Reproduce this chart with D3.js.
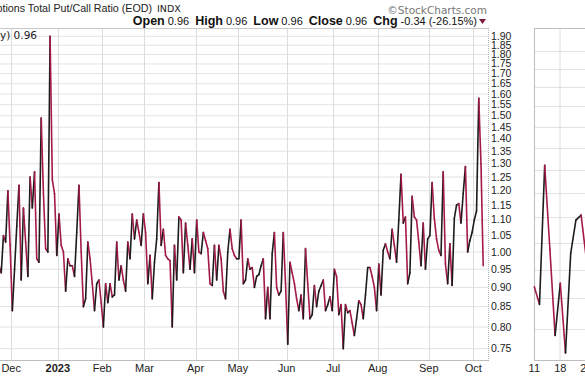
<!DOCTYPE html>
<html>
<head>
<meta charset="utf-8">
<script src="https://cdn.jsdelivr.net/npm/d3@7"></script>
<style>
  body { margin: 0; background: #fff; }
  svg { display: block; font-family: "Liberation Sans", Arial, sans-serif; }
</style>
</head>
<body>
<svg id="chart" width="585" height="376"></svg>
<script>
// $CPC daily closes, one array per month (trading days only)
const nov22 = [0.96, 0.94, 1.05, 1.03, 1.20, 1.02];
const dec22 = [0.84, 0.95, 1.08, 1.22, 0.92, 1.14, 1.03, 0.93, 1.25, 1.14, 1.27, 0.98, 0.97, 1.49, 1.19, 1.01, 1.00, 1.90, 1.24, 1.19, 0.99];
const jan23 = [1.12, 1.02, 1.00, 0.89, 0.98, 0.96, 0.96, 0.93, 1.06, 1.22, 1.00, 0.85, 0.87, 1.03, 0.98, 0.91, 0.84, 0.91, 0.92, 0.86];
const feb23 = [0.80, 0.91, 0.86, 0.91, 0.875, 0.88, 1.03, 0.92, 0.96, 0.92, 0.89, 1.03, 0.98, 1.12, 1.04, 1.10, 1.06, 1.02, 1.12];
const mar23 = [1.06, 0.91, 0.99, 0.87, 0.97, 1.04, 1.23, 1.02, 1.07, 0.99, 0.98, 0.975, 0.80, 1.02, 0.92, 1.11, 1.10, 0.94, 1.09, 1.02, 0.95, 1.04, 0.94];
const apr23 = [1.10, 1.00, 0.995, 1.06, 1.035, 1.01, 0.91, 0.905, 1.02, 0.92, 1.02, 0.98, 0.89, 0.87, 1.00, 1.07, 1.01, 0.99, 0.98];
const may23 = [0.98, 1.10, 0.91, 0.92, 0.98, 0.95, 0.955, 0.90, 0.93, 0.935, 0.96, 0.98, 0.82, 0.90, 0.82, 0.995, 1.06, 0.90, 0.88, 0.89, 1.06, 0.91];
const jun23 = [0.76, 0.97, 0.94, 0.91, 0.87, 0.84, 0.88, 0.82, 1.01, 0.91, 0.82, 0.83, 0.905, 0.85, 0.89, 0.905, 0.92, 0.84, 0.855, 0.875, 0.84];
const jul23 = [0.95, 0.93, 0.83, 0.855, 0.75, 0.855, 0.835, 0.84, 0.81, 0.78, 0.82, 0.865, 0.855, 0.82, 0.88, 0.955, 0.955, 0.93, 0.90, 0.84];
const aug23 = [0.965, 0.88, 1.005, 1.025, 1.00, 0.98, 1.07, 1.02, 0.97, 1.10, 1.26, 1.09, 1.11, 0.91, 0.94, 1.18, 1.11, 1.10, 1.03, 0.96, 1.09, 0.95, 1.04];
const sep23 = [1.05, 1.23, 1.105, 1.04, 1.005, 0.99, 1.27, 0.965, 0.91, 1.025, 0.905, 1.105, 1.15, 1.155, 1.09, 1.19, 1.29, 1.00, 1.035, 1.06];
const oct23 = [1.10, 1.13, 1.58, 1.30, 0.96];

const months = [nov22, dec22, jan23, feb23, mar23, apr23, may23, jun23, jul23, aug23, sep23, oct23];
const monthLabels = ['', 'Dec', '2023', 'Feb', 'Mar', 'Apr', 'May', 'Jun', 'Jul', 'Aug', 'Sep', 'Oct'];
const yTicks = [0.75, 0.80, 0.85, 0.90, 0.95, 1.00, 1.05, 1.10, 1.15, 1.20, 1.25, 1.30, 1.35, 1.40,
                1.45, 1.50, 1.55, 1.60, 1.65, 1.70, 1.75, 1.80, 1.85, 1.90];

// small panel on the right (cut off by the page edge)
const panelDays = ['11', '18', '25'];
const panelValues = [0.82, 0.79, 1.06, 0.887, 0.74, 0.826, 0.713, 0.88, 0.944, 0.954, 0.87];
const panelGrid = [0.75, 0.80, 0.85, 0.90, 0.95, 1.00, 1.05, 1.10, 1.15, 1.20, 1.25, 1.30, 1.35];

const upColor = '#1c1c1c';
const downColor = '#a31a45';

const svg = d3.select('#chart');
const plot = { left: 0, right: 488, top: 28, bottom: 360 };

const series = months.flat();
const monthStarts = [];
let count = 0;
months.forEach(m => { monthStarts.push(count); count += m.length; });

const xScale = d3.scaleLinear()
    .domain([0, series.length - 1])
    .range([-1.0, 483.2]);

const yScale = d3.scaleLog()
    .domain([0.75, 1.90])
    .range([348.7, 36.3]);

svg.append('clipPath').attr('id', 'plot-clip')
    .append('rect')
    .attr('x', plot.left - 5).attr('y', plot.top)
    .attr('width', plot.right - plot.left + 5).attr('height', plot.bottom - plot.top);

// horizontal grid
svg.append('g').selectAll('line')
    .data(yTicks)
    .join('line')
    .attr('x1', plot.left).attr('x2', plot.right)
    .attr('y1', d => yScale(d)).attr('y2', d => yScale(d))
    .attr('stroke', '#e2e2e2').attr('stroke-width', 1);

// month grid + labels
const monthIdx = d3.range(1, months.length);
svg.append('g').selectAll('line')
    .data(monthIdx)
    .join('line')
    .attr('x1', i => Math.round(xScale(monthStarts[i] - 0.5)) + 0.5)
    .attr('x2', i => Math.round(xScale(monthStarts[i] - 0.5)) + 0.5)
    .attr('y1', plot.top).attr('y2', plot.bottom)
    .attr('stroke', '#dcdcdc').attr('stroke-width', 1);

svg.append('g').selectAll('text')
    .data(monthIdx)
    .join('text')
    .attr('x', i => xScale(monthStarts[i] - 0.5))
    .attr('y', 372)
    .attr('text-anchor', 'middle')
    .attr('font-size', 11)
    .attr('font-weight', i => monthLabels[i] === '2023' ? 'bold' : 'normal')
    .attr('fill', '#222')
    .text(i => monthLabels[i]);

// frame
svg.append('line').attr('x1', plot.left).attr('x2', plot.right + 0.5)
    .attr('y1', plot.top + 0.5).attr('y2', plot.top + 0.5).attr('stroke', '#c8c8c8');
svg.append('line').attr('x1', plot.left).attr('x2', plot.right + 0.5)
    .attr('y1', plot.bottom + 0.5).attr('y2', plot.bottom + 0.5).attr('stroke', '#bdbdbd');
svg.append('line').attr('x1', plot.right + 0.5).attr('x2', plot.right + 0.5)
    .attr('y1', plot.top).attr('y2', plot.bottom + 1)
    .attr('stroke', '#b0b0b0').attr('stroke-dasharray', '1,1');

// right axis labels
svg.append('g').selectAll('text')
    .data(yTicks)
    .join('text')
    .attr('x', 491)
    .attr('y', d => yScale(d) + 3.5)
    .attr('font-size', 10.5)
    .attr('fill', '#222')
    .text(d => d.toFixed(2));

// price line: rising segments black, falling segments red
const segs = d3.pairs(series.map((v, i) => [i, v]));
svg.append('g').attr('clip-path', 'url(#plot-clip)')
    .selectAll('line')
    .data(segs)
    .join('line')
    .attr('x1', d => xScale(d[0][0])).attr('y1', d => yScale(d[0][1]))
    .attr('x2', d => xScale(d[1][0])).attr('y2', d => yScale(d[1][1]))
    .attr('stroke', d => d[1][1] >= d[0][1] ? upColor : downColor)
    .attr('stroke-width', 1.6)
    .attr('stroke-linecap', 'round');

// header texts
svg.append('text')
    .attr('x', 152).attr('y', 12)
    .attr('text-anchor', 'end')
    .attr('font-size', 10.7).attr('fill', '#222')
    .text('CBOE Options Total Put/Call Ratio (EOD)');
svg.append('text')
    .attr('x', 157).attr('y', 12)
    .attr('font-size', 9.5).attr('fill', '#222')
    .attr('font-family', 'DejaVu Sans')
    .text('INDX');

svg.append('text')
    .attr('x', 487).attr('y', 14)
    .attr('text-anchor', 'end')
    .attr('font-size', 10.5).attr('fill', '#777')
    .attr('font-family', 'DejaVu Sans')
    .text('\u00a9StockCharts.com');

const quote = [['Open', '0.96'], ['High', '0.96'], ['Low', '0.96'], ['Close', '0.96'], ['Chg', '-0.34 (-26.15%)']];
const qText = svg.append('text')
    .attr('x', 477).attr('y', 25)
    .attr('text-anchor', 'end')
    .attr('font-size', 11).attr('fill', '#111');
quote.forEach(([k, v], i) => {
    qText.append('tspan').attr('font-weight', 'bold').attr('font-size', 12.5)
        .attr('dx', i ? 6 : 0).text(k);
    qText.append('tspan').attr('dx', 3).text(v);
});
svg.append('path')
    .attr('d', 'M479,19 L486,19 L482.5,24 Z')
    .attr('fill', '#7a1a3c');

svg.append('text')
    .attr('x', 37).attr('y', 39)
    .attr('text-anchor', 'end')
    .attr('font-size', 10.5).attr('fill', '#222')
    .attr('font-family', 'DejaVu Sans')
    .text('$CPC (Daily) 0.96');

// right-hand panel
const panel = { left: 534, top: 28, bottom: 360 };
const px = d3.scaleLinear().domain([0, panelValues.length - 1]).range([534.3, 586.3]);
const py = d3.scaleLog().domain([0.75, 1.35]).range([329, 50.7]);

svg.append('g').selectAll('line')
    .data(panelGrid)
    .join('line')
    .attr('x1', panel.left).attr('x2', 585)
    .attr('y1', d => Math.round(py(d)) + 0.5).attr('y2', d => Math.round(py(d)) + 0.5)
    .attr('stroke', '#e2e2e2');

svg.append('g').selectAll('line')
    .data(panelDays.slice(1))
    .join('line')
    .attr('x1', (d, i) => px((i + 1) * 5) - 0.3).attr('x2', (d, i) => px((i + 1) * 5) - 0.3)
    .attr('y1', panel.top).attr('y2', panel.bottom)
    .attr('stroke', '#dcdcdc');

svg.append('rect')
    .attr('x', panel.left + 0.5).attr('y', panel.top + 0.5)
    .attr('width', 80).attr('height', panel.bottom - panel.top)
    .attr('fill', 'none').attr('stroke', '#bdbdbd');

svg.append('g').selectAll('text')
    .data(panelDays)
    .join('text')
    .attr('x', (d, i) => px(i * 5))
    .attr('y', 372)
    .attr('text-anchor', 'middle')
    .attr('font-size', 11).attr('fill', '#222')
    .text(d => d);

const psegs = d3.pairs(panelValues.map((v, i) => [i, v]));
svg.append('g').selectAll('line')
    .data(psegs)
    .join('line')
    .attr('x1', d => px(d[0][0])).attr('y1', d => py(d[0][1]))
    .attr('x2', d => px(d[1][0])).attr('y2', d => py(d[1][1]))
    .attr('stroke', d => d[1][1] >= d[0][1] ? upColor : downColor)
    .attr('stroke-width', 1.6)
    .attr('stroke-linecap', 'round');
</script>
</body>
</html>
